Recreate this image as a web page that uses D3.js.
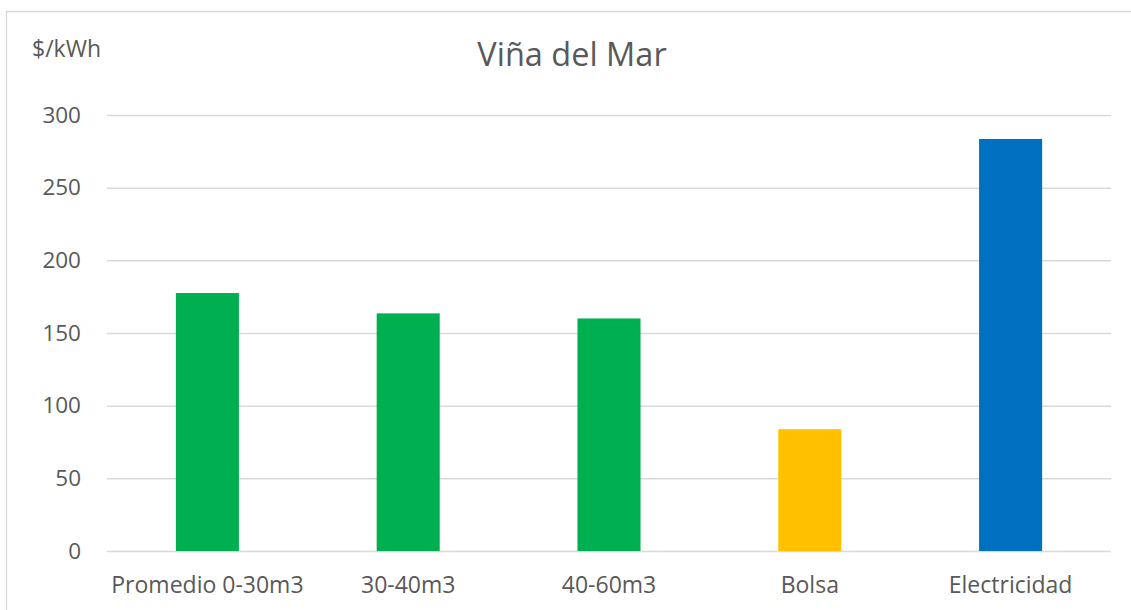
<!DOCTYPE html>
<html>
<head>
<meta charset="utf-8">
<script src="https://cdn.jsdelivr.net/npm/d3@7"></script>
<style>
  body { margin: 0; background: #fff; }
  text { font-family: "Open Sans", "Noto Sans", sans-serif; fill: #595959; }
</style>
</head>
<body>
<svg id="root"></svg>
<script>
const categories = ['Promedio 0-30m3', '30-40m3', '40-60m3', 'Bolsa', 'Electricidad'];
const values = [177.5, 163.5, 160, 83.8, 283.5];
const barColors = ['#00b050', '#00b050', '#00b050', '#ffc000', '#0070c0'];
const yTicks = [0, 50, 100, 150, 200, 250, 300];

const width = 1131, height = 610;
const margin = { top: 115, right: 20, bottom: 59, left: 107 };
const plotW = width - margin.left - margin.right;
const plotH = height - margin.top - margin.bottom;

const svg = d3.select('#root')
    .attr('width', width)
    .attr('height', height);

// chart frame (only top and left edges are visible in the crop)
svg.append('path')
    .attr('d', `M6.5,${height} V11.5 H${width}`)
    .attr('fill', 'none')
    .attr('stroke', '#d9d9d9')
    .attr('stroke-width', 1.3);

const x = d3.scaleBand()
    .domain(categories)
    .range([0, plotW])
    .paddingInner(0.686)
    .paddingOuter(0.343);

const y = d3.scaleLinear()
    .domain([0, 300])
    .range([plotH, 0]);

const g = svg.append('g')
    .attr('transform', `translate(${margin.left},${margin.top})`);

// gridlines + y labels
const yAxis = d3.axisLeft(y)
    .tickValues(yTicks)
    .tickSize(-plotW)
    .tickPadding(26);

g.append('g')
    .attr('class', 'y axis')
    .call(yAxis)
    .call(s => s.select('.domain').remove())
    .call(s => s.selectAll('line').attr('stroke', '#d9d9d9').attr('stroke-width', 1.5))
    .call(s => s.selectAll('text')
        .style('font-size', '22.5px')
        .attr('fill', '#595959'));

// bars
g.selectAll('.bar')
    .data(values)
    .enter().append('rect')
    .attr('class', 'bar')
    .attr('x', (d, i) => x(categories[i]))
    .attr('y', d => y(d))
    .attr('width', x.bandwidth())
    .attr('height', d => y(0) - y(d))
    .attr('fill', (d, i) => barColors[i]);

// x labels
const xAxis = d3.axisBottom(x).tickSize(0).tickPadding(0);
g.append('g')
    .attr('class', 'x axis')
    .attr('transform', `translate(0,${plotH})`)
    .call(xAxis)
    .call(s => s.select('.domain').remove())
    .call(s => s.selectAll('text')
        .attr('dy', null)
        .attr('y', 42)
        .style('font-size', '23px')
        .attr('fill', '#595959'));

// title
svg.append('text')
    .attr('x', 572)
    .attr('y', 66)
    .attr('text-anchor', 'middle')
    .style('font-size', '32.5px')
    .text('Viña del Mar');

// unit label
svg.append('text')
    .attr('x', 32)
    .attr('y', 57)
    .style('font-size', '23px')
    .text('$/kWh');
</script>
</body>
</html>
